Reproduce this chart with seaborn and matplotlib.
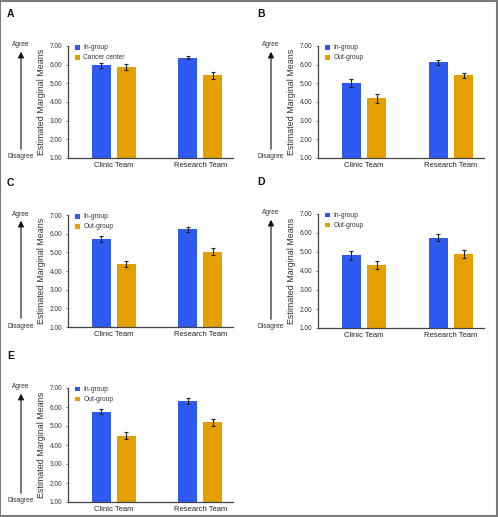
import numpy as np
import pandas as pd
import matplotlib
matplotlib.use("Agg")
import matplotlib.pyplot as plt
import seaborn as sns

# === Data ===
teams = ["Clinic Team", "Research Team"]
panel_letters = ["A", "B", "C", "D", "E"]
second_groups = ["Cancer center", "Out-group", "Out-group", "Out-group", "Out-group"]

ingroup_means = [[5.97, 6.38], [5.00, 6.12], [5.72, 6.23], [4.83, 5.76], [5.76, 6.32]]
ingroup_err = [[0.13, 0.09], [0.22, 0.15], [0.14, 0.13], [0.23, 0.19], [0.15, 0.14]]
other_means = [[5.87, 5.42], [4.20, 5.42], [4.38, 5.04], [4.32, 4.88], [4.49, 5.19]]
other_err = [[0.14, 0.17], [0.23, 0.15], [0.17, 0.18], [0.21, 0.21], [0.17, 0.18]]

y_ticks = [1, 2, 3, 4, 5, 6, 7]

blue = "#2f5af2"
orange = "#e4a000"

sns.set_theme(style="white")
plt.rcParams["font.family"] = ["Liberation Sans", "DejaVu Sans"]

W, H = 498, 517
fig = plt.figure(figsize=(W / 100, H / 100), dpi=100)

# axes boxes in pixels: left, top, right, bottom
boxes = [
    (68, 46, 233, 158),
    (318, 46, 484, 158),
    (68, 215, 233, 327),
    (318, 214, 484, 328),
    (68, 388, 233, 502),
]

for i, (l, t, r, b) in enumerate(boxes):
    ax = fig.add_axes([l / W, 1 - b / H, (r - l) / W, (b - t) / H])
    df = pd.DataFrame({
        "Team": teams * 2,
        "Group": ["In-group"] * 2 + [second_groups[i]] * 2,
        "Mean": ingroup_means[i] + other_means[i],
        "Err": ingroup_err[i] + other_err[i],
    })
    sns.barplot(data=df, x="Team", y="Mean", hue="Group",
                palette=[blue, orange], width=0.58, gap=0.24,
                errorbar=None, ax=ax, saturation=1, linewidth=0)
    # error bars on top of each bar
    for patch, (_, row) in zip(ax.patches, df.iterrows()):
        xc = patch.get_x() + patch.get_width() / 2
        ax.errorbar(xc, patch.get_height(), yerr=row["Err"], fmt="none",
                    ecolor="#222222", elinewidth=0.8, capsize=1.3, capthick=0.8)

    ax.set_ylim(1, 7)
    ax.set_xlim(-0.53, 1.38)
    ax.set_yticks(y_ticks)
    ax.set_yticklabels([f"{v:.2f}" for v in y_ticks], fontsize=4.7, color="#333333")
    ax.tick_params(axis="x", labelsize=5.5, length=0, pad=3, labelcolor="#222222")
    ax.tick_params(axis="y", length=1.5, width=0.5, pad=2.5, left=True, color="#444444")
    ax.set_xlabel("")
    ax.set_ylabel("Estimated Marginal Means", fontsize=6.4, labelpad=2.5, color="#333333")
    for s in ["top", "right"]:
        ax.spines[s].set_visible(False)
    for s in ["left", "bottom"]:
        ax.spines[s].set_color("#444444")
        ax.spines[s].set_linewidth(0.9)

    leg = ax.legend(loc="upper left", bbox_to_anchor=(0.02, 1.05), frameon=False,
                    fontsize=4.8, handlelength=0.75, handleheight=0.75,
                    handletextpad=0.45, labelspacing=0.45, borderaxespad=0.2)
    for txt in leg.get_texts():
        txt.set_color("#333333")

    # panel letter
    fig.text((l - 61) / W, 1 - (t - 37) / H, panel_letters[i], fontsize=7.5,
             fontweight="bold", ha="left", va="top", color="#111111")

    # Agree / Disagree arrow
    ax_x = (l - 47) / W
    fig.text(ax_x, 1 - (t - 1) / H, "Agree", fontsize=4.8, ha="center",
             va="center", color="#333333")
    fig.text(ax_x, 1 - (b - 1) / H, "Disagree", fontsize=4.8, ha="center",
             va="center", color="#333333")
    fig.add_artist(matplotlib.patches.FancyArrowPatch(
        (ax_x, 1 - (b - 6) / H), (ax_x, 1 - (t + 3) / H),
        transform=fig.transFigure, arrowstyle="-|>,head_length=3.5,head_width=1.8",
        color="#111111", linewidth=0.8))

# outer gray frame
fig.add_artist(matplotlib.patches.Rectangle((0.001, 0.001), 0.997, 0.997,
               transform=fig.transFigure, fill=False, edgecolor="#7a7a7a",
               linewidth=1.5))

fig.savefig("out.png", dpi=100)
plt.close(fig)
